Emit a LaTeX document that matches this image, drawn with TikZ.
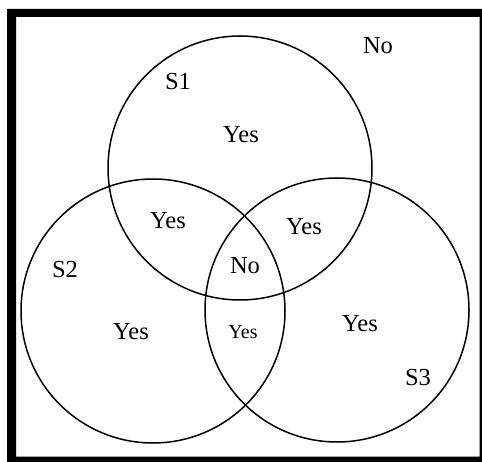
\documentclass[tikz,border=0pt]{standalone}
\usepackage{fontspec}
\setmainfont{Liberation Serif}
\begin{document}
\begin{tikzpicture}[x=1pt,y=-1pt,
  setc/.style={draw=black,line width=1.5pt},
  lbl/.style={font=\fontsize{24.5}{28}\selectfont,inner sep=0pt},
  lbls/.style={font=\fontsize{20}{24}\selectfont,inner sep=0pt}]
\useasboundingbox (0,0) rectangle (482,462);
\fill[black,even odd rule] (7,9) rectangle (482,462) (16,17) rectangle (479.5,456.5);
\node[setc,circle,minimum size=264pt,inner sep=0pt] (s1) at (240,168) {};
\node[setc,circle,minimum size=264pt,inner sep=0pt] (s2) at (153,311) {};
\node[setc,circle,minimum size=264pt,inner sep=0pt] (s3) at (337,310) {};
\node[lbl] (no1) at (378,46) {No};
\node[lbl] (ls1) at (178,82) {S1};
\node[lbl] (y1) at (241,135) {Yes};
\node[lbl] (y12) at (168,221) {Yes};
\node[lbl] (y13) at (304,227) {Yes};
\node[lbl] (ls2) at (65,270) {S2};
\node[lbl] (no2) at (245,266) {No};
\node[lbl] (y2) at (131,332) {Yes};
\node[lbls] (y23) at (243,332) {Yes};
\node[lbl] (y3) at (360,324) {Yes};
\node[lbl] (ls3) at (418,378) {S3};
\end{tikzpicture}
\end{document}
